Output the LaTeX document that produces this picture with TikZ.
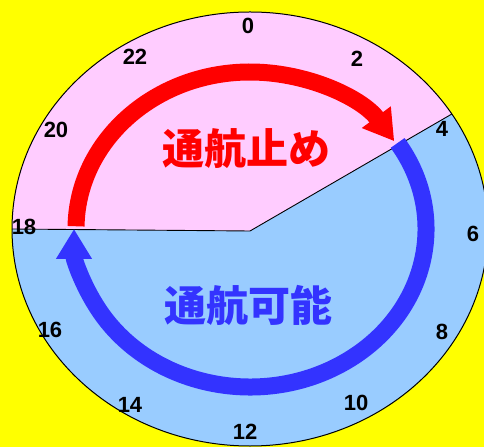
\documentclass[tikz,border=0pt]{standalone}
\usepackage{fontspec}
\setmainfont{Liberation Sans}
\newfontfamily\jpfont{Noto Sans CJK JP}
\usetikzlibrary{arrows.meta,calc}
\definecolor{bgyellow}{RGB}{255,255,0}
\definecolor{pinkfill}{RGB}{255,204,255}
\definecolor{bluefill}{RGB}{153,204,255}
\definecolor{stopred}{RGB}{255,0,0}
\definecolor{gohblue}{RGB}{51,51,255}
\tikzset{
  hourlabel/.style={font=\fontsize{22}{22}\selectfont\bfseries, inner sep=0pt, text=black},
  biglabel/.style={font=\jpfont\fontsize{42}{42}\selectfont\bfseries, inner sep=0pt},
  redarc/.style={draw=stopred, line width=17pt, -{Triangle[width=34pt,length=30pt]}},
  bluearc/.style={draw=gohblue, line width=17pt, -{Triangle[width=34pt,length=30pt]}},
  rim/.style={draw=black, line width=1pt},
  divider/.style={draw=black, line width=0.9pt}
}
\begin{document}
\begin{tikzpicture}[x=1pt,y=1pt]
\useasboundingbox (0,0) rectangle (484,447);
\fill[bgyellow] (0,0) rectangle (484,447);
\clip (0,0) rectangle (484,447);
\coordinate (C) at (250,218);
\coordinate (V) at (250,216);
\coordinate (L) at (12,218);
\coordinate (R) at ($(C)+(32:238 and 217)$);
% whole dial
\fill[bluefill] (C) ellipse [x radius=238, y radius=217];
% closed sector
\fill[pinkfill] (V) -- (L) arc[start angle=180, end angle=32, x radius=238, y radius=217] -- cycle;
\draw[divider] (L) -- (V) -- (R);
\draw[rim] (C) ellipse [x radius=238, y radius=217];
% arrows
\draw[redarc] (C) ++(179:174 and 157) arc[start angle=179, end angle=34, x radius=174, y radius=157];
\draw[bluearc] (C) ++(33:176 and 158) arc[start angle=33, end angle=-180, x radius=176, y radius=158];
% hour labels
\node[hourlabel] (h0) at (248,421) {0};
\node[hourlabel] (h2) at (357,388) {2};
\node[hourlabel] (h4) at (442,318) {4};
\node[hourlabel] (h6) at (473,213) {6};
\node[hourlabel] (h8) at (442,115) {8};
\node[hourlabel] (h10) at (356,44) {10};
\node[hourlabel] (h12) at (245,15) {12};
\node[hourlabel] (h14) at (130,42) {14};
\node[hourlabel] (h16) at (50,117) {16};
\node[hourlabel] (h18) at (24,220) {18};
\node[hourlabel] (h20) at (56,317) {20};
\node[hourlabel] (h22) at (135,390) {22};
% big labels
\node[biglabel, text=stopred] (stop) at (246,298) {通航止め};
\node[biglabel, text=gohblue] (go) at (248,142) {通航可能};
\end{tikzpicture}
\end{document}
